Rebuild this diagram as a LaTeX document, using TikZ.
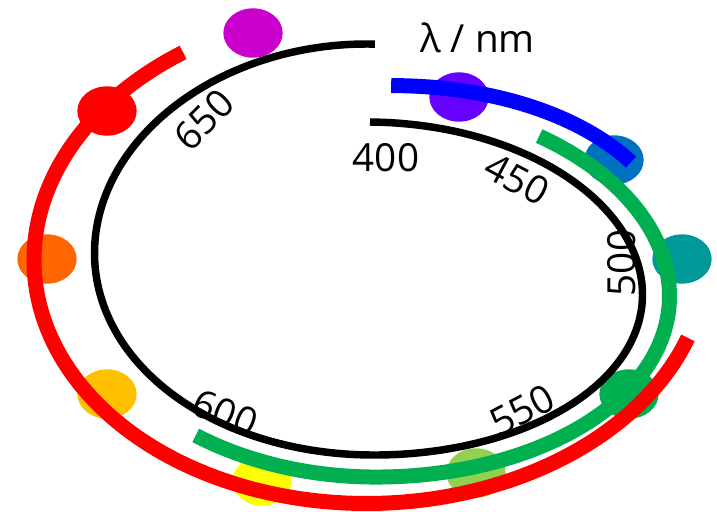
\documentclass[tikz,border=0pt]{standalone}
\usepackage{fontspec}
\setmainfont{Open Sans}
\usetikzlibrary{shapes.geometric}

\definecolor{cMagenta}{HTML}{CC00CC}
\definecolor{cViolet}{HTML}{6600FF}
\definecolor{cBlueDot}{HTML}{0070C0}
\definecolor{cTeal}{HTML}{009999}
\definecolor{cGreen}{HTML}{00B050}
\definecolor{cLime}{HTML}{92D050}
\definecolor{cYellow}{HTML}{FFFF00}
\definecolor{cGold}{HTML}{FFC000}
\definecolor{cOrange}{HTML}{FF6600}
\definecolor{cRed}{HTML}{FF0000}
\definecolor{cBlue}{HTML}{0000FF}

\begin{document}
\begin{tikzpicture}[x=0.75pt, y=-0.75pt,
  dotmark/.style={ellipse, draw=none, minimum width=44.5pt, minimum height=37pt, inner sep=0pt},
  spiralline/.style={line width=5.6pt, draw=black, line cap=butt},
  band/.style={line width=11.25pt, draw=#1, line cap=butt},
  lbl/.style={font=\fontsize{29}{34}\selectfont, inner sep=0pt, text=black},
  declare function={
    % wavelength spiral, widened by da (horizontal) and db (vertical)
    spx(\w,\da)=370+(271+\da+6*(\w/360))*sin(\w);
    spy(\w,\da,\db)=269-(147+\db+78*(\w/360))*cos(\w)+0.055*(271+\da+6*(\w/360))*sin(\w)+(\w<180)*10*sin(\w)^2;
    % blue band
    blx(\w)=370+312*sin(\w);
    bly(\w)=269-(183+78*(\w/360))*cos(\w);
    % red band
    rdx(\w)=370+336*sin(\w);
    rdy(\w)=260-(240+10*((\w-100)/230))*cos(\w);
  }]
\useasboundingbox (0,0) rectangle (717,511);

% colour dots
\node[dotmark, fill=cMagenta] (d400) at (253,33) {};
\node[dotmark, fill=cViolet]  (d425) at (459,97) {};
\node[dotmark, fill=cBlueDot] (d475) at (614,160) {};
\node[dotmark, fill=cTeal]    (d500) at (682,259) {};
\node[dotmark, fill=cGreen]   (d525) at (629,394) {};
\node[dotmark, fill=cLime]    (d560) at (476,473) {};
\node[dotmark, fill=cYellow]  (d580) at (262,481) {};
\node[dotmark, fill=cGold]    (d600) at (107,394) {};
\node[dotmark, fill=cOrange]  (d620) at (47,259) {};
\node[dotmark, fill=cRed]     (d650) at (107,111) {};

% wavelength spiral
\draw[spiralline] plot[domain=0:361, samples=240, variable=\t] ({spx(\t,0)},{spy(\t,0,0)});

% scale labels
\node[lbl, anchor=base west] (unit) at (420,52) {λ / nm};
\node[lbl, anchor=base] (l400) at (386,171.5) {400};
\node[lbl, rotate=-28] (l450) at (517,179) {450};
\node[lbl, rotate=90]  (l500) at (622,263) {500};
\node[lbl, rotate=28]  (l550) at (522,410) {550};
\node[lbl, rotate=-22] (l600) at (225,413) {600};
\node[lbl, rotate=45]  (l650) at (204,120) {650};

% absorption bands
\draw[band=cGreen] plot[domain=34.5:215.3, samples=160, variable=\t] ({spx(\t,27)},{spy(\t,27,22)});
\draw[band=cBlue] plot[domain=3.9:56.8, samples=60, variable=\t] ({blx(\t)},{bly(\t)});
\draw[band=cRed] plot[domain=108.9:326.2, samples=180, variable=\t] ({rdx(\t)},{rdy(\t)});
\end{tikzpicture}
\end{document}
